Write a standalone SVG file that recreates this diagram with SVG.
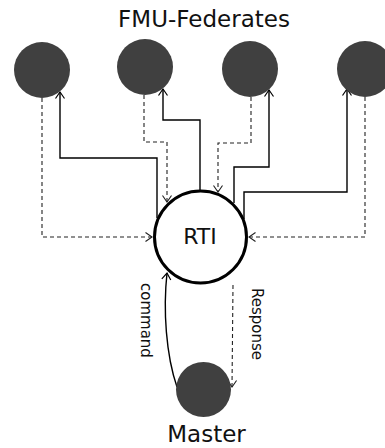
<svg xmlns="http://www.w3.org/2000/svg" width="385" height="448" viewBox="0 0 385 448">
<style>
.fed{fill:#404040;}
.lbl{font-family:"DejaVu Sans",sans-serif;fill:#111;}
.sol{fill:none;stroke:#000;stroke-width:1.4;}
.dsh{fill:none;stroke:#222;stroke-width:1.1;stroke-dasharray:4,3;}
</style>
<defs>
<marker id="ah" markerUnits="userSpaceOnUse" viewBox="-8 -6 10 12" refX="0" refY="0" markerWidth="10" markerHeight="12" orient="auto">
<path d="M-6.5,-4.5 L0,0 L-6.5,4.5" fill="none" stroke="#000" stroke-width="1.2"/>
</marker>
<marker id="ahd" markerUnits="userSpaceOnUse" viewBox="-8 -6 10 12" refX="0" refY="0" markerWidth="10" markerHeight="12" orient="auto">
<path d="M-6.5,-4.5 L0,0 L-6.5,4.5" fill="none" stroke="#222" stroke-width="1.1"/>
</marker>
</defs>
<text class="lbl" x="204" y="27" font-size="23" text-anchor="middle">FMU-Federates</text>
<g id="connectors">
<path class="dsh" d="M42,98 V237 H152" marker-end="url(#ahd)"/>
<path class="sol" d="M157,218 V158 H60 V92" marker-end="url(#ah)"/>
<path class="dsh" d="M144,95 V142 H167 V202" marker-end="url(#ahd)"/>
<path class="sol" d="M200,190 V120 H163 V89" marker-end="url(#ah)"/>
<path class="dsh" d="M251,97 V143 H218 V192" marker-end="url(#ahd)"/>
<path class="sol" d="M234,203 V167 H269 V90" marker-end="url(#ah)"/>
<path class="dsh" d="M365,97 V237 H249" marker-end="url(#ahd)"/>
<path class="sol" d="M244,219 V192 H347 V89" marker-end="url(#ah)"/>
<path class="sol" d="M177,387 C166,355 163,310 167,273" marker-end="url(#ah)"/>
<path class="dsh" d="M233,285 L232,387" marker-end="url(#ahd)"/>
<text class="lbl" font-size="15" transform="translate(141,283) rotate(90)">command</text>
<text class="lbl" font-size="15" transform="translate(251.5,288) rotate(90)">Response</text>
</g>
<g id="fed1"><circle class="fed" cx="42" cy="70" r="28"/></g>
<g id="fed2"><circle class="fed" cx="145" cy="67" r="28"/></g>
<g id="fed3"><circle class="fed" cx="250" cy="69" r="28"/></g>
<g id="fed4"><circle class="fed" cx="365" cy="69" r="28"/></g>
<g id="rti">
<circle cx="200.5" cy="237" r="46" fill="#fff" stroke="#000" stroke-width="3"/>
<text class="lbl" x="200" y="244" font-size="22" text-anchor="middle">RTI</text>
</g>
<g id="master">
<circle class="fed" cx="203.5" cy="389.5" r="27.5"/>
<text class="lbl" x="206.5" y="442" font-size="23" text-anchor="middle">Master</text>
</g>
</svg>
